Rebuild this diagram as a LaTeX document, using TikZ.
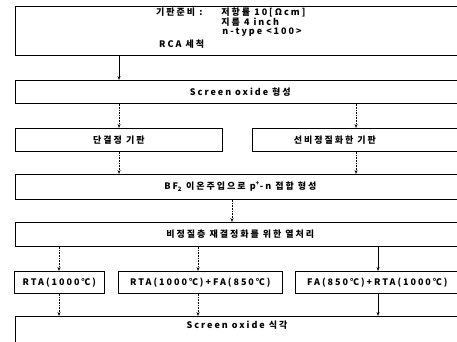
\documentclass[tikz,border=0pt]{standalone}
\usepackage{fontspec}
\setmainfont{Noto Sans CJK KR}[LetterSpace=22]
\usetikzlibrary{arrows.meta}
\tikzset{
  box/.style={draw=black, line width=0.7pt, rectangle, anchor=north west, inner sep=0pt, font=\fontsize{9}{10}\selectfont\bfseries},
  txt/.style={inner sep=0pt, font=\fontsize{9}{10}\selectfont\bfseries},
  arr/.style={draw=black, line width=0.6pt, densely dotted, -{Stealth[length=4pt,width=3.2pt,line width=0pt]}}
}
\begin{document}
\begin{tikzpicture}[x=1pt,y=-1pt]
\useasboundingbox (0,0) rectangle (457,342);
\clip (0,0) rectangle (457,342);
\node[box, minimum width=450pt, minimum height=49pt] (b1) at (15,6) {};
\node[txt, anchor=north west, align=left] (b1t) at (156,8) {%
\renewcommand{\arraystretch}{0.74}%
\begin{tabular}{@{}l@{}l@{}}
기판준비 :\hspace*{19pt} & 저항률 10[Ωcm]\\
 & 지름 4 inch\\
 & \hspace*{1pt}n-type <100>\\[3pt]
\hspace*{3pt}RCA 세척 & \\
\end{tabular}};
\node[box, minimum width=450pt, minimum height=23pt] (b2) at (15,80) {Screen oxide 형성};
\node[box, minimum width=207pt, minimum height=23pt] (b3) at (15,128) {단결정 기판};
\node[box, minimum width=213pt, minimum height=23pt] (b4) at (252,128) {\hspace*{-48pt}선비정질화한 기판};
\node[box, minimum width=450pt, minimum height=25pt] (b5) at (15,174) {BF\textsubscript{2} 이온주입으로 p\textsuperscript{+}-n 접합 형성};
\node[box, minimum width=450pt, minimum height=24pt] (b6) at (15,222) {비정질층 재결정화를 위한 열처리};
\node[box, minimum width=90pt, minimum height=22pt] (b7a) at (14,271) {RTA(1000℃)};
\node[box, minimum width=164pt, minimum height=22pt] (b7b) at (118,271) {RTA(1000℃)+FA(850℃)};
\node[box, minimum width=170pt, minimum height=22pt] (b7c) at (295,271) {\hspace*{-6pt}FA(850℃)+RTA(1000℃)};
\node[box, minimum width=450pt, minimum height=44pt] (b8) at (15,316) {};
\node[txt] (b8t) at (237,325) {Screen oxide 식각};
\coordinate (xa) at (119,0);
\coordinate (xb) at (356,0);
\coordinate (xc) at (232,0);
\coordinate (xd) at (59,0);
\coordinate (xe) at (198,0);
\coordinate (xf) at (378,0);
\draw[arr, solid] (b1.south -| xa) -- (b2.north -| xa);
\draw[arr] (b2.south -| xa) -- (b3.north -| xa);
\draw[arr] (b2.south -| xb) -- (b4.north -| xb);
\draw[arr] (b3.south -| xa) -- (b5.north -| xa);
\draw[arr] (b4.south -| xb) -- (b5.north -| xb);
\draw[arr] (b5.south -| xc) -- (b6.north -| xc);
\draw[arr] (b6.south -| xd) -- (b7a.north -| xd);
\draw[arr] (b6.south -| xe) -- (b7b.north -| xe);
\draw[arr, solid] (b6.south -| xf) -- (b7c.north -| xf);
\draw[arr] (b7a.south -| xd) -- (b8.north -| xd);
\draw[arr] (b7b.south -| xe) -- (b8.north -| xe);
\draw[arr, solid] (b7c.south -| xf) -- (b8.north -| xf);
\end{tikzpicture}
\end{document}
